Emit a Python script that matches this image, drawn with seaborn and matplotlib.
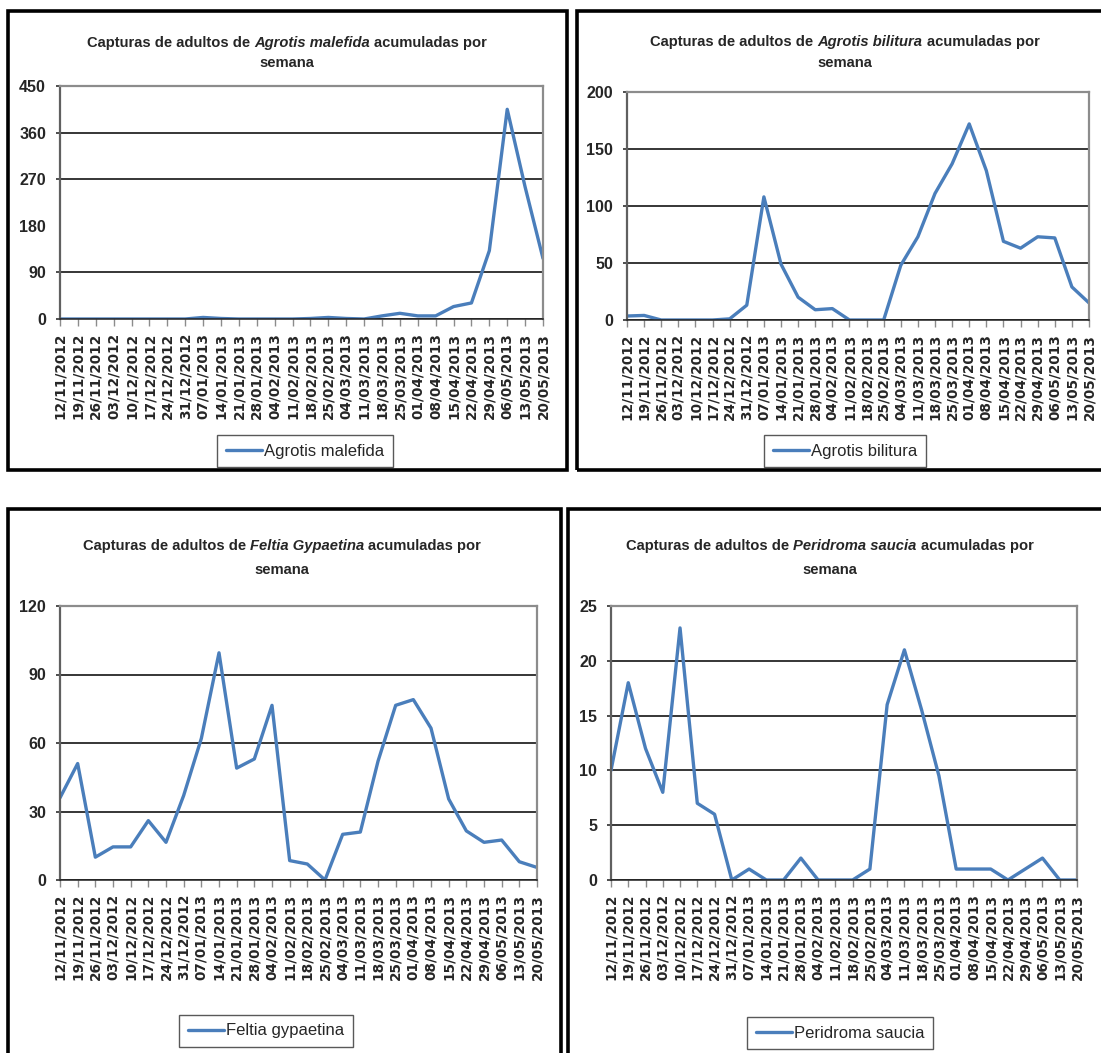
import numpy as np
import pandas as pd
import matplotlib
matplotlib.use("Agg")
import matplotlib.pyplot as plt
import seaborn as sns
from matplotlib.patches import Rectangle

# weekly sampling dates (x axis)
dates = [
    "12/11/2012", "19/11/2012", "26/11/2012", "03/12/2012", "10/12/2012",
    "17/12/2012", "24/12/2012", "31/12/2012", "07/01/2013", "14/01/2013",
    "21/01/2013", "28/01/2013", "04/02/2013", "11/02/2013", "18/02/2013",
    "25/02/2013", "04/03/2013", "11/03/2013", "18/03/2013", "25/03/2013",
    "01/04/2013", "08/04/2013", "15/04/2013", "22/04/2013", "29/04/2013",
    "06/05/2013", "13/05/2013", "20/05/2013",
]

# captures per week
malefida = [0, 0, 0, 0, 0, 0, 0, 0, 3, 1, 0, 0, 0, 0, 1, 3, 1, 0, 6, 11,
            6, 6, 24, 31, 132, 405, 255, 117]
bilitura = [3.5, 4, 0, 0, 0, 0, 1, 13, 108, 49, 20, 9, 10, 0, 0, 0, 48, 73,
            111, 137, 172, 131, 69, 63, 73, 72, 29, 15]
gypaetina = [36, 51, 10, 14.5, 14.5, 26, 16.5, 37, 62, 99.5, 49, 53, 76.5,
             8.5, 7, 0, 20, 21, 52, 76.5, 79, 66.5, 35.5, 21.5, 16.5, 17.5, 8, 5.5]
saucia = [10, 18, 12, 8, 23, 7, 6, 0, 1, 0, 0, 2, 0, 0, 0, 1, 16, 21, 15.5,
          9.5, 1, 1, 1, 0, 1, 2, 0, 0]

title_species = ["Agrotis malefida", "Agrotis bilitura", "Feltia Gypaetina", "Peridroma saucia"]
legend_names = ["Agrotis malefida", "Agrotis bilitura", "Feltia gypaetina", "Peridroma saucia"]
series = [malefida, bilitura, gypaetina, saucia]
y_max = [450, 200, 120, 25]
y_step = [90, 50, 30, 5]

W, H = 1101, 1053
BLUE = "#4A7EBB"
NARROW = ["Liberation Sans Narrow", "Liberation Sans", "DejaVu Sans"]

sns.set_style("white")
plt.rcParams["font.family"] = NARROW

# pixel layout of each panel: axes box, frame, title, legend
axes_px = [(60, 86, 543, 319), (627, 92, 1089, 320), (60, 606, 537, 880), (611, 606, 1077, 880)]
frame_px = [(8, 11, 567, 470), (577, 11, 1106, 470), (8, 509, 561, 1060), (568, 509, 1106, 1060)]
title_px = [(287, 47, 67), (845, 46, 67), (282, 550, 574), (830, 550, 574)]
legend_px = [(305, 451), (845, 451), (266, 1031), (840, 1033)]


def fx(px):
    return px / W


def fy(py):
    return 1 - py / H


fig = plt.figure(figsize=(W / 100, H / 100), dpi=100)
fig.patch.set_facecolor("white")
renderer = fig.canvas.get_renderer()
TSIZE = 10.6


def title_line(cx, y, parts):
    # parts: list of (text, style); draw them next to each other, centred on cx
    probe_a = fig.text(0, 0, "x x", fontsize=TSIZE, fontweight="bold")
    probe_b = fig.text(0, 0, "xx", fontsize=TSIZE, fontweight="bold")
    gap = probe_a.get_window_extent(renderer).width - probe_b.get_window_extent(renderer).width
    probe_a.remove()
    probe_b.remove()
    texts = []
    for s, style in parts:
        t = fig.text(0, fy(y), s, fontsize=TSIZE, fontweight="bold", style=style, va="baseline")
        texts.append(t)
    widths = [t.get_window_extent(renderer).width for t in texts]
    x = cx - (sum(widths) + gap * (len(widths) - 1)) / 2
    for t, w in zip(texts, widths):
        t.set_x(fx(x))
        x += w + gap


for i in range(4):
    l, t, r, b = axes_px[i]
    ax = fig.add_axes([fx(l), fy(b), (r - l) / W, (b - t) / H])
    df = pd.DataFrame({"pos": np.arange(len(dates)), "val": series[i]})
    sns.lineplot(data=df, x="pos", y="val", ax=ax, color=BLUE, linewidth=2.4,
                 label=legend_names[i])
    ax.set_xlim(0, len(dates) - 1)
    ax.set_ylim(0, y_max[i])
    ax.set_xticks(np.arange(len(dates)))
    ax.set_xticklabels(dates, rotation=90, fontsize=9.8, fontweight="bold",
                       family="DejaVu Sans")
    ax.set_yticks(np.arange(0, y_max[i] + 1, y_step[i]))
    for lbl in ax.get_yticklabels():
        lbl.set_fontweight("bold")
        lbl.set_fontsize(11.5)
    ax.set_xlabel("")
    ax.set_ylabel("")
    ax.yaxis.grid(True, color="black", linewidth=1.1)
    ax.xaxis.grid(False)
    ax.set_axisbelow(True)
    ax.spines["left"].set_color("#606060")
    ax.spines["left"].set_linewidth(1.6)
    for side in ["top", "right"]:
        ax.spines[side].set_color("#8C8C8C")
        ax.spines[side].set_linewidth(1.6)
    ax.spines["bottom"].set_color("#202020")
    ax.spines["bottom"].set_linewidth(1.1)
    ax.tick_params(axis="x", direction="out", length=5, width=1, color="#8C8C8C",
                   pad=5, bottom=True)
    ax.tick_params(axis="y", direction="out", length=3, width=1.3, color="#404040",
                   pad=7, left=True)
    if i == 0:
        # the 180 gridline is missing in the original chart
        tk = ax.yaxis.get_major_ticks()[2]
        tk.gridline.set_visible(False)
        tk.tick1line.set_visible(False)

    cx, cy = legend_px[i]
    leg = ax.legend(loc="center", bbox_to_anchor=(fx(cx), fy(cy)),
                    bbox_transform=fig.transFigure, frameon=True, fancybox=False,
                    edgecolor="#303030", fontsize=12, handlelength=2.2,
                    handletextpad=0.1, borderpad=0.5, borderaxespad=0)
    leg.get_frame().set_linewidth(1.0)

    tcx, ty1, ty2 = title_px[i]
    title_line(tcx, ty1, [("Capturas de adultos de", "normal"),
                          (title_species[i], "italic"),
                          ("acumuladas por", "normal")])
    title_line(tcx, ty2, [("semana", "normal")])

    x0, y0, x1, y1 = frame_px[i]
    fig.add_artist(Rectangle((fx(x0), fy(y1)), (x1 - x0) / W, (y1 - y0) / H,
                             transform=fig.transFigure, fill=False,
                             linewidth=2.6, edgecolor="black", clip_on=False))

fig.savefig("out.png", dpi=100)
